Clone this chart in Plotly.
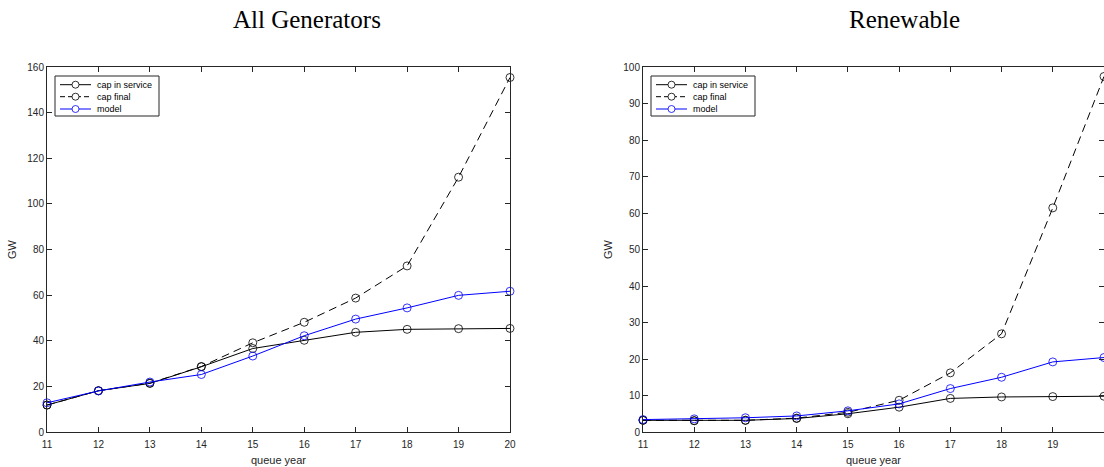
import plotly.graph_objects as go

years = [11, 12, 13, 14, 15, 16, 17, 18, 19, 20]

all_service = [11.8, 18.1, 21.3, 28.6, 36.6, 40.2, 43.7, 45.0, 45.3, 45.4]
all_final = [11.8, 18.1, 21.4, 28.7, 39.1, 48.1, 58.7, 72.8, 111.7, 155.4]
all_model = [12.8, 18.0, 21.9, 25.2, 33.3, 42.2, 49.5, 54.4, 59.9, 61.7]

ren_service = [3.2, 3.1, 3.2, 3.7, 5.0, 6.8, 9.2, 9.6, 9.7, 9.8]
ren_final = [3.2, 3.1, 3.2, 3.8, 5.4, 8.7, 16.2, 26.9, 61.4, 97.4]
ren_model = [3.4, 3.6, 3.9, 4.4, 5.8, 7.7, 11.9, 15.0, 19.2, 20.4]

series_names = ["cap in service", "cap final", "model"]
panel_titles = ["All Generators", "Renewable"]
x_title = "queue year"
y_title = "GW"

W, H = 1104, 467
ML, MR, MT, MB = 0, 0, 67, 35
PH = H - MT - MB

AX = "#262626"
FONT = "Liberation Sans, Arial, Helvetica, sans-serif"

fig = go.Figure()

styles = [
    dict(color="black", dash="solid"),
    dict(color="black", dash="8px,5px"),
    dict(color="#0000FF", dash="solid"),
]

panels = [
    (all_service, all_final, all_model, "x", "y"),
    (ren_service, ren_final, ren_model, "x2", "y2"),
]

for data in panels:
    vals = data[:3]
    xa, ya = data[3:]
    for name, v, st in zip(series_names, vals, styles):
        fig.add_trace(go.Scatter(
            x=years, y=v, name=name, mode="lines+markers",
            line=dict(color=st["color"], dash=st["dash"], width=1),
            marker=dict(symbol="circle-open", size=8, color=st["color"],
                        line=dict(width=0.8, color=st["color"])),
            xaxis=xa, yaxis=ya, cliponaxis=False, showlegend=False,
        ))

def xax(domain, anchor):
    return dict(domain=domain, anchor=anchor, range=[11, 20], dtick=1,
                tick0=11, ticks="inside", ticklen=5, tickcolor=AX,
                showline=True, linecolor=AX, linewidth=1, mirror="ticks",
                showgrid=False, zeroline=False, automargin=False,
                ticklabelstandoff=3,
                tickfont=dict(family=FONT, size=10, color=AX),
                title=dict(text=x_title, font=dict(family=FONT, size=11, color=AX),
                           standoff=7))

def yax(rng, dt, anchor):
    return dict(domain=[0, 1], anchor=anchor, range=rng, dtick=dt, tick0=0,
                ticks="inside", ticklen=5, tickcolor=AX,
                showline=True, linecolor=AX, linewidth=1, mirror="ticks",
                showgrid=False, zeroline=False, automargin=False,
                tickfont=dict(family=FONT, size=10, color=AX),
                title=dict(text=y_title, font=dict(family=FONT, size=11, color=AX),
                           standoff=8))

d1 = [47 / W, 510 / W]
d2 = [643 / W, 1.0]

fig.update_layout(
    width=W, height=H,
    margin=dict(l=ML, r=MR, t=MT, b=MB),
    paper_bgcolor="white", plot_bgcolor="white",
    showlegend=False,
    xaxis=xax(d1, "y"),
    yaxis=yax([0, 160], 20, "x"),
    xaxis2=xax(d2, "y2"),
    yaxis2=yax([0, 100], 10, "x2"),
)

# ---- custom compact legends (MATLAB style boxes) ----
def px(x):
    return (x - ML) / W

def py(y):
    return (H - MB - y) / PH

legend_left = [55, 651]      # left edge of legend box in px
LEG_TOP, LEG_BOT, LEG_W = 76, 116, 104
ROWS = [84.7, 96.7, 109.0]
for lx in legend_left:
    fig.add_shape(type="rect", xref="paper", yref="paper",
                  x0=px(lx), x1=px(lx + LEG_W), y0=py(LEG_BOT), y1=py(LEG_TOP),
                  line=dict(color=AX, width=1), fillcolor="white", layer="above")
    for name, st, ry in zip(series_names, styles, ROWS):
        fig.add_shape(type="line", xref="paper", yref="paper",
                      x0=px(lx + 5), x1=px(lx + 36), y0=py(ry), y1=py(ry),
                      line=dict(color=st["color"], width=1,
                                dash="5px,3px" if st["dash"] != "solid" else "solid"),
                      layer="above")
        cx = lx + 20.5
        fig.add_shape(type="circle", xref="paper", yref="paper",
                      x0=px(cx - 3.5), x1=px(cx + 3.5), y0=py(ry + 3.5), y1=py(ry - 3.5),
                      line=dict(color=st["color"], width=0.8), fillcolor="white",
                      layer="above")
        fig.add_annotation(text=name, xref="paper", yref="paper",
                           x=px(lx + 40), y=py(ry), xanchor="left", yanchor="middle",
                           showarrow=False,
                           font=dict(family=FONT, size=9, color="black"))

title_centers = [307, 904]
for t, cx in zip(panel_titles, title_centers):
    fig.add_annotation(
        text=t, xref="paper", yref="paper", x=cx / W, y=(H - MB - 20) / PH,
        xanchor="center", yanchor="middle", showarrow=False,
        font=dict(family="Liberation Serif, Times New Roman, serif", size=25, color="black"),
    )

fig.write_html("out.html")
